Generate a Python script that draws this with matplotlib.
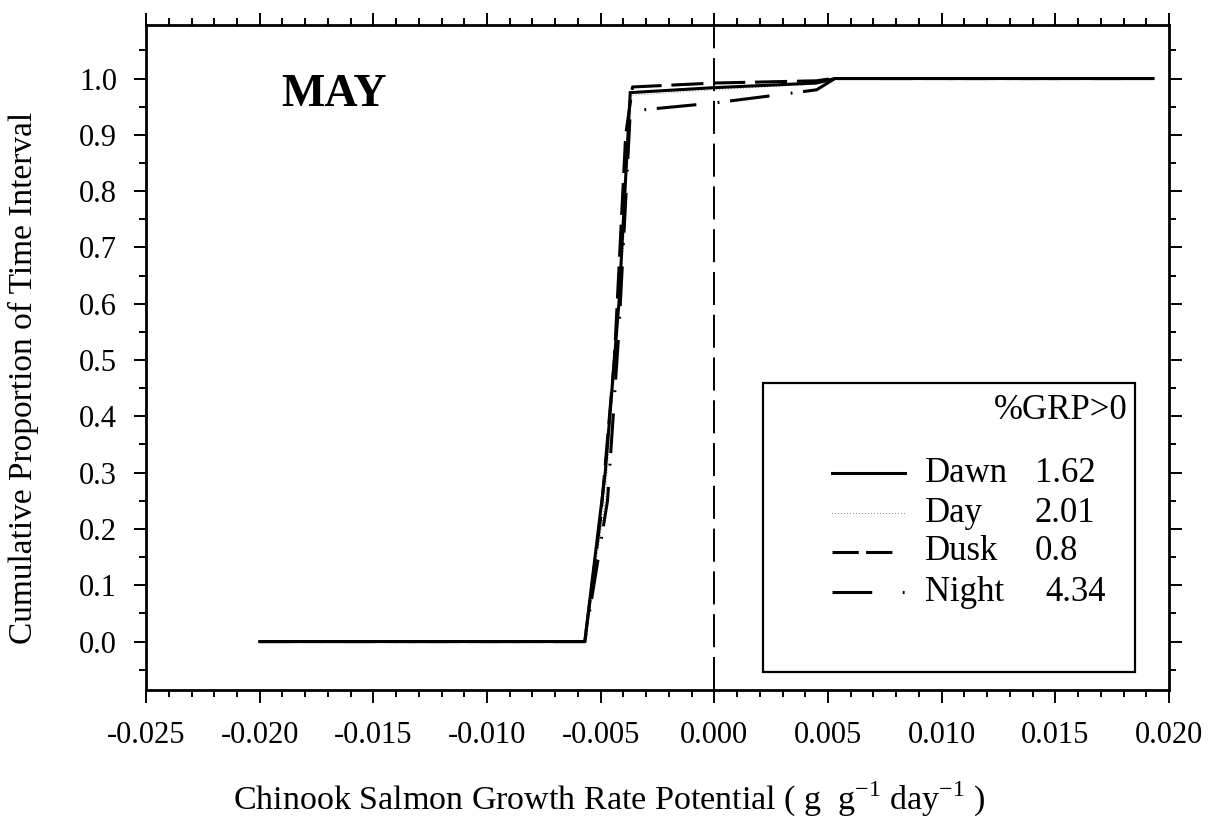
import matplotlib
matplotlib.use("Agg")
import matplotlib.pyplot as plt
from matplotlib.lines import Line2D
from matplotlib.patches import Rectangle
from matplotlib.ticker import MultipleLocator

plt.rcParams["font.family"] = ["Liberation Serif", "DejaVu Serif"]
plt.rcParams["mathtext.fontset"] = "custom"
plt.rcParams["mathtext.rm"] = "Liberation Serif"

# percent of time with growth rate potential above zero
periods = ["Dawn", "Day", "Dusk", "Night"]
pct_grp = [1.62, 2.01, 0.8, 4.34]

# cumulative distributions of growth rate potential
dawn_x = [-0.020, -0.0057, -0.0048, -0.0042, -0.0037, 0.000, 0.0045, 0.0053, 0.0193]
dawn_y = [0.0, 0.0, 0.30, 0.60, 0.975, 1 - pct_grp[0] / 100, 0.992, 1.0, 1.0]

day_x = [-0.020, -0.0057, -0.0048, -0.0040, -0.0037, 0.000, 0.0045, 0.0053, 0.0193]
day_y = [0.0, 0.0, 0.25, 0.70, 0.97, 1 - pct_grp[1] / 100, 0.99, 1.0, 1.0]

dusk_x = [-0.020, -0.0057, -0.0050, -0.0044, -0.0039, -0.0036, 0.000, 0.0045, 0.0052, 0.0193]
dusk_y = [0.0, 0.0, 0.22, 0.50, 0.90, 0.985, 1 - pct_grp[2] / 100, 0.996, 1.0, 1.0]

night_x = [-0.020, -0.0057, -0.0047, -0.0042, -0.0037, -0.0030, 0.000, 0.003, 0.0045, 0.0053, 0.0193]
night_y = [0.0, 0.0, 0.25, 0.55, 0.94, 0.945, 1 - pct_grp[3] / 100, 0.972, 0.98, 1.0, 1.0]

lw = 2.2
styles = [
    dict(linestyle="-", linewidth=lw),
    dict(linestyle=(0, (0.6, 3.0)), linewidth=0.6),
    dict(linestyle=(0, (10.5, 3.2)), linewidth=lw),
    dict(linestyle=(0, (13.0, 7.0, 0.6, 3.5)), linewidth=lw),
]
# legend glyphs: two dashes for dusk, one dash and a dot for night
key_styles = [
    styles[0],
    styles[1],
    dict(linestyle=(0, (8.6, 2.4)), linewidth=lw),
    dict(linestyle=(0, (13.0, 10.0, 0.6, 10.0)), linewidth=lw),
]
key_end = [0.742, 0.742, 0.732, 0.742]
series = [(dawn_x, dawn_y), (day_x, day_y), (dusk_x, dusk_y), (night_x, night_y)]

fig = plt.figure(figsize=(12.09, 8.21), dpi=100)
ax = fig.add_axes([0.1208, 0.1596, 0.8461, 0.8099])

for (xs, ys), st in zip(series, styles):
    ax.plot(xs, ys, color="black", solid_joinstyle="miter", **st)

ax.axvline(0.0, color="black", linewidth=1.4, linestyle=(0, (17, 5)))

ax.set_xlim(-0.025, 0.020)
ax.set_ylim(-0.086, 1.095)
ax.xaxis.set_minor_locator(MultipleLocator(0.001))
ax.yaxis.set_minor_locator(MultipleLocator(0.05))
ax.set_xticks([-0.025, -0.020, -0.015, -0.010, -0.005, 0.0, 0.005, 0.010, 0.015, 0.020])
ax.set_xticklabels(["-0.025", "-0.020", "-0.015", "-0.010", "-0.005",
                    "0.000", "0.005", "0.010", "0.015", "0.020"])
ax.set_yticks([0.0, 0.1, 0.2, 0.3, 0.4, 0.5, 0.6, 0.7, 0.8, 0.9, 1.0])
ax.set_yticklabels(["0.0", "0.1", "0.2", "0.3", "0.4", "0.5",
                    "0.6", "0.7", "0.8", "0.9", "1.0"])
ax.tick_params(which="both", direction="out", top=True, right=True, width=1.4)
ax.tick_params(which="major", length=9)
ax.tick_params(which="minor", length=5)
ax.tick_params(axis="x", which="major", labelsize=22, pad=13)
ax.tick_params(axis="y", which="major", labelsize=22, pad=12)
for sp in ax.spines.values():
    sp.set_linewidth(2)

fig.text(0.5037, 0.026,
         r"Chinook Salmon Growth Rate Potential ( g  g$^{\mathregular{-1}}$ day$^{\mathregular{-1}}$ )",
         fontsize=24.5, ha="center", va="center")
fig.text(0.019, 0.5396, "Cumulative Proportion of Time Interval", fontsize=24,
         rotation=90, ha="center", va="center")

ax.text(0.184, 0.895, "MAY", transform=ax.transAxes, fontsize=33,
        fontweight="bold", ha="center", va="center")

# legend box with growth summaries
ax.add_patch(Rectangle((0.603, 0.027), 0.364, 0.435, transform=ax.transAxes,
                       fill=False, edgecolor="black", linewidth=1.6, zorder=5))
ax.text(0.960, 0.421, "%GRP>0", transform=ax.transAxes, fontsize=25,
        ha="right", va="center")
row_y = [0.326, 0.266, 0.2075, 0.147]
val_x = [0.869, 0.869, 0.869, 0.879]
for name, pct, st, yy, vx, xe in zip(periods, pct_grp, key_styles, row_y, val_x, key_end):
    ax.add_line(Line2D([0.671, xe], [yy, yy], transform=ax.transAxes,
                       color="black", **st))
    ax.text(0.7615, yy, name, transform=ax.transAxes, fontsize=25,
            ha="left", va="center")
    ax.text(vx, yy, f"{pct:g}", transform=ax.transAxes, fontsize=25,
            ha="left", va="center")

plt.savefig("out.png", dpi=100)
